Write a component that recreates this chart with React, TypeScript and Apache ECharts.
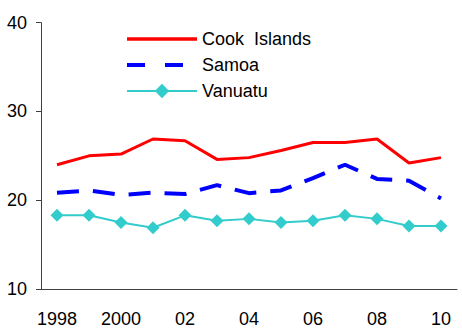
import React, { useEffect, useRef } from "react";
import * as echarts from "echarts";

const years = ["1998", "1999", "2000", "01", "02", "03", "04", "05", "06", "07", "08", "09", "10"];
const cookIslands = [24.0, 25.0, 25.2, 26.9, 26.7, 24.6, 24.8, 25.6, 26.5, 26.5, 26.9, 24.2, 24.8];
const samoa = [20.85, 21.1, 20.6, 20.85, 20.7, 21.7, 20.8, 21.1, 22.5, 24.0, 22.4, 22.2, 20.2];
const vanuatu = [18.3, 18.3, 17.5, 16.9, 18.3, 17.7, 17.9, 17.5, 17.7, 18.3, 17.9, 17.1, 17.1];
const yTicks = { min: 10, max: 40, interval: 10 };

const FONT = "'Liberation Sans', Arial, sans-serif";

export default function App() {
  const ref = useRef<HTMLDivElement>(null);
  useEffect(() => {
    if (!ref.current) return;
    const chart = echarts.init(ref.current, undefined, { renderer: "svg" });
    chart.setOption({
      animation: false,
      backgroundColor: "#ffffff",
      grid: { left: 41, right: 5, top: 22.7, bottom: 38, containLabel: false },
      legend: {
        orient: "vertical",
        left: 125,
        top: 30,
        padding: 0,
        itemWidth: 70,
        itemHeight: 18,
        itemGap: 8,
        textStyle: { fontFamily: FONT, fontSize: 18, color: "#000" },
        data: [
          { name: "Cook  Islands", itemStyle: { opacity: 0 }, lineStyle: { width: 3.5 } },
          { name: "Samoa", itemStyle: { opacity: 0 }, lineStyle: { width: 4, type: [18, 20] } },
          { name: "Vanuatu", lineStyle: { width: 2 } },
        ],
      },
      xAxis: {
        type: "category",
        data: years,
        boundaryGap: true,
        axisLine: { lineStyle: { color: "#404040", width: 1 } },
        axisTick: { interval: 1, length: 5, lineStyle: { color: "#404040" } },
        axisLabel: { interval: 1, margin: 21, fontFamily: FONT, fontSize: 18, color: "#000" },
        splitLine: { show: false },
      },
      yAxis: {
        type: "value",
        min: yTicks.min,
        max: yTicks.max,
        interval: yTicks.interval,
        axisLine: { show: true, lineStyle: { color: "#404040", width: 1 } },
        axisTick: { show: true, length: 5, lineStyle: { color: "#404040" } },
        axisLabel: { margin: 14, fontFamily: FONT, fontSize: 18, color: "#000" },
        splitLine: { show: false },
      },
      series: [
        {
          name: "Cook  Islands",
          type: "line",
          data: cookIslands,
          symbol: "none",
          lineStyle: { color: "#FF0000", width: 3 },
          itemStyle: { color: "#FF0000" },
        },
        {
          name: "Samoa",
          type: "line",
          data: samoa,
          symbol: "none",
          lineStyle: { color: "#0000FF", width: 4, type: [22, 14] },
          itemStyle: { color: "#0000FF" },
        },
        {
          name: "Vanuatu",
          type: "line",
          data: vanuatu,
          symbol: "diamond",
          symbolSize: 13,
          lineStyle: { color: "#33CCCC", width: 2 },
          itemStyle: { color: "#33CCCC" },
        },
      ],
    });
    return () => chart.dispose();
  }, []);
  return (
    <div
      ref={ref}
      style={{ position: "fixed", left: 0, top: 0, width: 462, height: 328 }}
    />
  );
}
